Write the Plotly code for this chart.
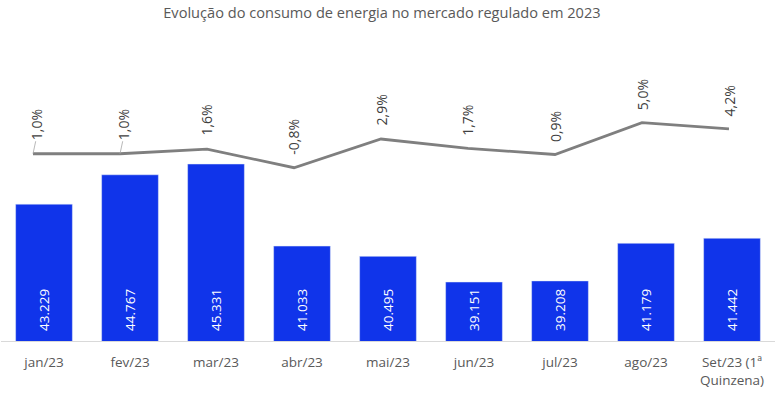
import plotly.graph_objects as go

categories = ["jan/23", "fev/23", "mar/23", "abr/23", "mai/23", "jun/23", "jul/23", "ago/23", "Set/23 (1ª<br>Quinzena)"]
consumo = [43229, 44767, 45331, 41033, 40495, 39151, 39208, 41179, 41442]
variacao = [1.0, 1.0, 1.6, -0.8, 2.9, 1.7, 0.9, 5.0, 4.2]

FONT = "Open Sans"
BAR_COLOR = "#1034EA"
LINE_COLOR = "#7F7F7F"
TEXT_COLOR = "#595959"

fig = go.Figure()
fig.add_trace(go.Bar(
    x=categories, y=consumo, marker_color=BAR_COLOR, width=0.66,
    xaxis="x", yaxis="y", hoverinfo="skip", showlegend=False,
))
idx = list(range(len(categories)))
fig.add_trace(go.Scatter(
    x=idx, y=variacao, mode="lines",
    line=dict(color=LINE_COLOR, width=2.8),
    xaxis="x2", yaxis="y2", hoverinfo="skip", showlegend=False,
))

annotations = []
for c, v in zip(categories, consumo):
    annotations.append(dict(
        x=c, y=0, xref="x", yref="paper", yanchor="bottom", xanchor="center",
        yshift=8, text=f"{v:,}".replace(",", "."), textangle=-90,
        showarrow=False, font=dict(family=FONT, size=13.5, color="white"),
    ))
for i, p in zip(idx, variacao):
    annotations.append(dict(
        x=i, y=p, xref="x2", yref="y2", yanchor="bottom", xanchor="center",
        yshift=11, xshift=(3 if i < 2 else 0),
        text=f"{p:.1f}%".replace(".", ","), textangle=-90,
        showarrow=False, font=dict(family=FONT, size=14, color="#404040"),
    ))
    if i < 2:
        annotations.append(dict(
            x=i, y=p, xref="x2", yref="y2", text="", showarrow=True,
            ax=3, ay=-14, arrowhead=0, arrowwidth=0.8, arrowcolor="#A6A6A6",
            standoff=0, startstandoff=0,
        ))

fig.update_layout(
    width=780, height=399,
    margin=dict(l=1, r=5, t=60, b=58),
    paper_bgcolor="white", plot_bgcolor="white",
    title=dict(text="Evolução do consumo de energia no mercado regulado em 2023",
               x=0.4897, xanchor="center", y=0.967, yanchor="middle",
               font=dict(family=FONT, size=14.6, color=TEXT_COLOR)),
    xaxis=dict(type="category", range=[-0.5, 8.5], showline=True, linecolor="#D9D9D9",
               linewidth=1, ticks="", showgrid=False, zeroline=False,
               ticklabelstandoff=9,
               tickfont=dict(family=FONT, size=13.5, color=TEXT_COLOR)),
    yaxis=dict(range=[36061, 50778], visible=False, showgrid=False),
    xaxis2=dict(overlaying="x", range=[-0.368, 8.529], visible=False),
    yaxis2=dict(overlaying="y", range=[-23.13, 13.08], visible=False, anchor="x2"),
    annotations=annotations,
    bargap=0.34,
)

fig.write_html("out.html", config={"displayModeBar": False},
               post_script="document.body.style.margin='0';")
